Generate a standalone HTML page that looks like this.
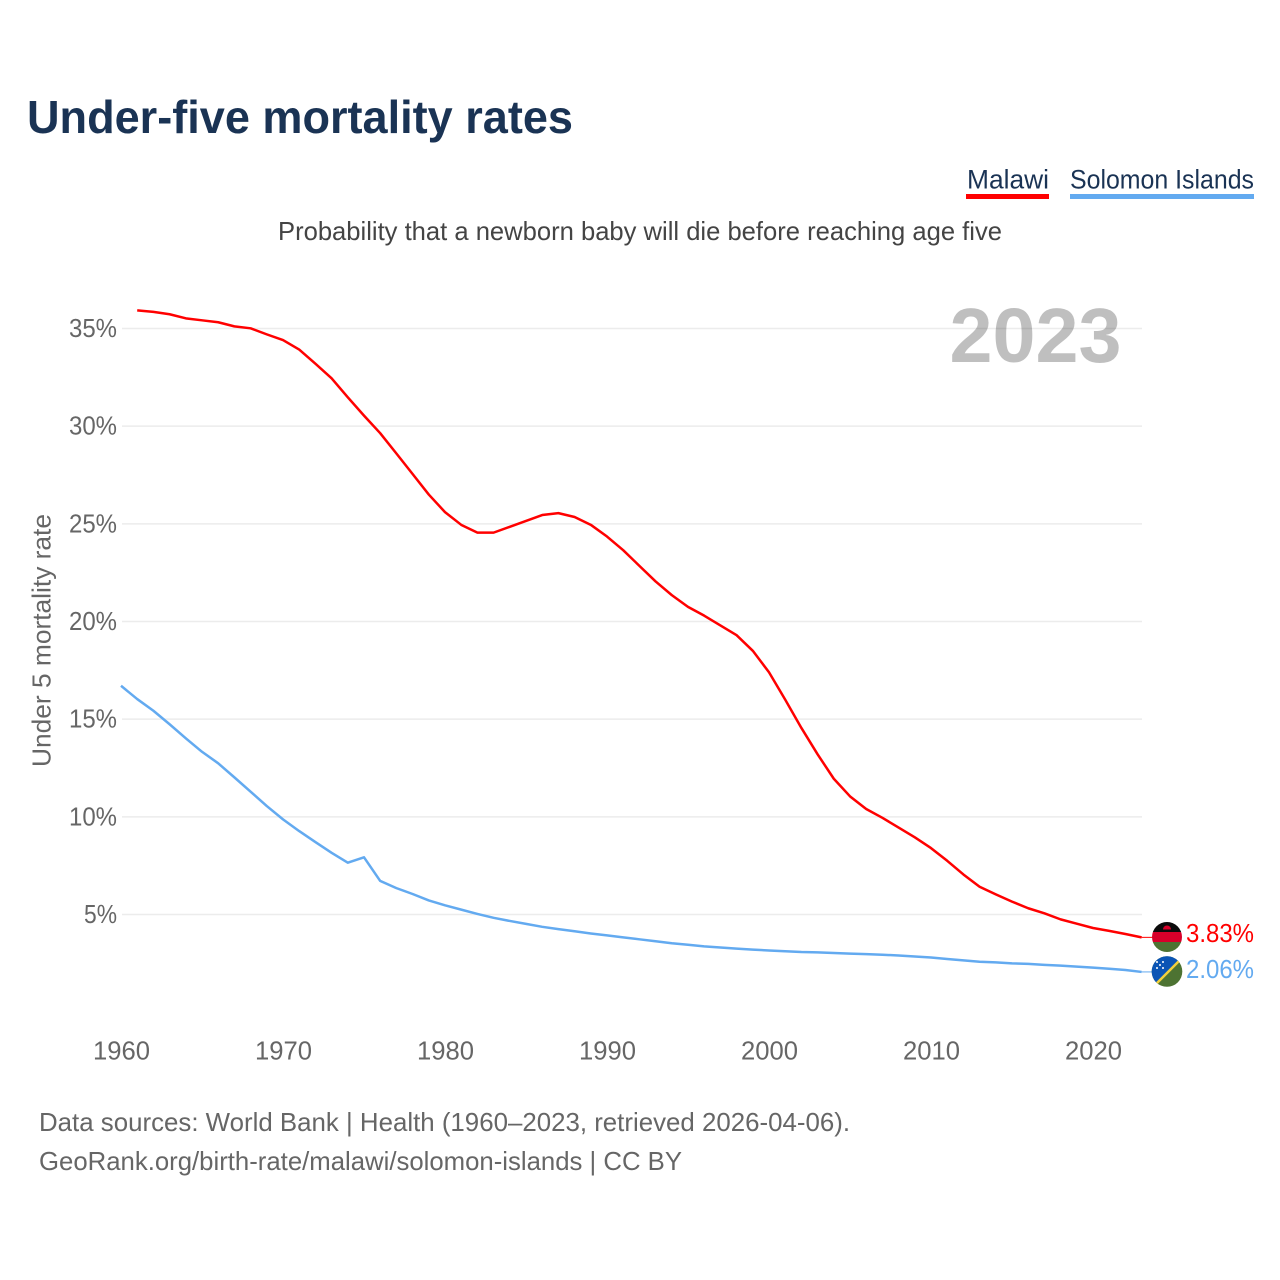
<!DOCTYPE html>
<html lang="en">
<head>
<meta charset="utf-8">
<title>Under-five mortality rates</title>
<style>
html,body{margin:0;padding:0;background:#fff;width:1280px;height:1280px;overflow:hidden}
svg{display:block;font-family:"Liberation Sans",sans-serif}
</style>
</head>
<body>
<svg id="chart" xmlns="http://www.w3.org/2000/svg" width="1280" height="1280" viewBox="0 0 1280 1280">
  <defs>
    <clipPath id="clip-mw"><circle cx="1167" cy="937" r="15"/></clipPath>
    <clipPath id="clip-sb"><circle cx="1167" cy="971.5" r="15.3"/></clipPath>
  </defs>
  <rect width="1280" height="1280" fill="#fff"/>
  <text x="27" y="133" font-size="46" font-weight="700" fill="#1a3354" textLength="546" lengthAdjust="spacingAndGlyphs">Under-five mortality rates</text>
  <g>
    <g>
      <text x="967" y="188.5" font-size="27" fill="#1a3354" textLength="82" lengthAdjust="spacingAndGlyphs">Malawi</text>
      <rect x="966" y="194" width="83" height="5" fill="#ff0000"/>
    </g>
    <g>
      <text x="1070" y="188.5" font-size="27" fill="#1a3354" textLength="184" lengthAdjust="spacingAndGlyphs">Solomon Islands</text>
      <rect x="1070" y="194" width="184" height="5" fill="#63aaf0"/>
    </g>
  </g>
  <text x="278" y="240" font-size="26" fill="#444" textLength="724" lengthAdjust="spacingAndGlyphs">Probability that a newborn baby will die before reaching age five</text>
  <text transform="translate(50.5,767) rotate(-90)" x="0" y="0" font-size="26" fill="#666" textLength="253" lengthAdjust="spacingAndGlyphs">Under 5 mortality rate</text>
  <g id="grid"></g>
  <text x="949.5" y="362" font-size="77" font-weight="700" fill="#000" fill-opacity="0.25" textLength="172" lengthAdjust="spacingAndGlyphs">2023</text>
  <g id="yticks"></g>
  <g id="xticks"></g>
  <g id="series"></g>
  <g clip-path="url(#clip-mw)">
    <rect x="1152" y="922" width="30" height="10" fill="#0b0b0b"/>
    <rect x="1152" y="932" width="30" height="10" fill="#d8002a"/>
    <rect x="1152" y="942" width="30" height="10" fill="#4d7332"/>
    <path d="M1163 929.5a4 4 0 0 1 8 0z" fill="#d8002a"/>
  </g>
  <g clip-path="url(#clip-sb)">
    <rect x="1150" y="954" width="36" height="36" fill="#4d7332"/>
    <path d="M1150 954h36L1150 990z" fill="#0b55b5"/>
    <path d="M1154 986L1182 958" stroke="#f2d03c" stroke-width="2.5" fill="none"/>
    <g fill="#fff">
      <circle cx="1157" cy="962" r="1"/><circle cx="1163" cy="962" r="1"/>
      <circle cx="1160" cy="965" r="1"/><circle cx="1157" cy="968" r="1"/><circle cx="1163" cy="968" r="1"/>
    </g>
  </g>
  <text x="1186" y="942" font-size="26" fill="#ff0000" textLength="68" lengthAdjust="spacingAndGlyphs">3.83%</text>
  <text x="1186" y="978" font-size="26" fill="#63aaf0" textLength="68" lengthAdjust="spacingAndGlyphs">2.06%</text>
  <text x="39" y="1131" font-size="26" fill="#666" textLength="811" lengthAdjust="spacingAndGlyphs">Data sources: World Bank | Health (1960–2023, retrieved 2026-04-06).</text>
  <text x="39" y="1170" font-size="26" fill="#666" textLength="643" lengthAdjust="spacingAndGlyphs">GeoRank.org/birth-rate/malawi/solomon-islands | CC BY</text>
</svg>
<script>
const yTickValues = [5, 10, 15, 20, 25, 30, 35];
const xTickYears = [1960, 1970, 1980, 1990, 2000, 2010, 2020];
const malawiStartYear = 1961;
const malawiValues = [35.93, 35.85, 35.73, 35.52, 35.42, 35.32, 35.11, 35.01, 34.7, 34.41, 33.92, 33.2, 32.45, 31.48, 30.54, 29.64, 28.6, 27.55, 26.5, 25.6, 24.95, 24.55, 24.55, 24.85, 25.15, 25.45, 25.55, 25.35, 24.95, 24.35, 23.65, 22.85, 22.05, 21.35, 20.75, 20.3, 19.8, 19.3, 18.5, 17.4, 16.0, 14.55, 13.2, 11.95, 11.05, 10.4, 9.95, 9.45, 8.95, 8.4, 7.75, 7.05, 6.42, 6.03, 5.66, 5.32, 5.06, 4.75, 4.53, 4.31, 4.16, 4.0, 3.83];
const solomonStartYear = 1960;
const solomonValues = [16.71, 16.03, 15.43, 14.74, 14.02, 13.33, 12.74, 12.02, 11.29, 10.55, 9.87, 9.27, 8.71, 8.16, 7.65, 7.93, 6.72, 6.35, 6.05, 5.72, 5.47, 5.25, 5.03, 4.83, 4.67, 4.52, 4.37, 4.25, 4.14, 4.03, 3.93, 3.83, 3.73, 3.63, 3.53, 3.45, 3.37, 3.31, 3.25, 3.2, 3.16, 3.12, 3.08, 3.06, 3.03, 3.0, 2.97, 2.94, 2.9, 2.85, 2.8, 2.72, 2.65, 2.58, 2.55, 2.5, 2.47, 2.42, 2.38, 2.33, 2.28, 2.22, 2.16, 2.06];

const NS = 'http://www.w3.org/2000/svg';
function xScale(year) { return 121 + (year - 1960) * 16.2; }
function yScale(v) { return 914.5 - (v - 5) * 19.533; }

function makeEl(tag, parent) {
  const el = document.createElementNS(NS, tag);
  parent.appendChild(el);
  return el;
}

const gridGroup = document.getElementById('grid');
const yGroup = document.getElementById('yticks');
const xGroup = document.getElementById('xticks');
const seriesGroup = document.getElementById('series');

yTickValues.forEach(function (v) {
  const line = makeEl('line', gridGroup);
  
  
  line.setAttribute('x1', 122);
  line.setAttribute('x2', 1142);
  line.setAttribute('y1', yScale(v));
  line.setAttribute('y2', yScale(v));
  line.setAttribute('stroke', '#ececec');
  line.setAttribute('stroke-width', '1.5');

  const label = makeEl('text', yGroup);
  
  
  label.setAttribute('x', 117);
  label.setAttribute('y', yScale(v) + 8.5);
  label.setAttribute('text-anchor', 'end');
  label.setAttribute('font-size', '26');
  label.setAttribute('fill', '#666');
  label.setAttribute('textLength', v < 10 ? 33 : 48);
  label.setAttribute('lengthAdjust', 'spacingAndGlyphs');
  label.textContent = v + '%';
});

xTickYears.forEach(function (year) {
  const label = makeEl('text', xGroup);
  
  
  label.setAttribute('x', xScale(year) + 0.5);
  label.setAttribute('y', 1059.5);
  label.setAttribute('text-anchor', 'middle');
  label.setAttribute('font-size', '26');
  label.setAttribute('fill', '#666');
  label.setAttribute('textLength', 57);
  label.setAttribute('lengthAdjust', 'spacingAndGlyphs');
  label.textContent = year;
});

function pointsFor(startYear, values) {
  return values.map(function (v, i) {
    return xScale(startYear + i).toFixed(2) + ',' + yScale(v).toFixed(2);
  }).join(' ');
}

const malawiLine = makeEl('polyline', seriesGroup);


malawiLine.setAttribute('points', pointsFor(malawiStartYear, malawiValues));
malawiLine.setAttribute('fill', 'none');
malawiLine.setAttribute('stroke', '#ff0000');
malawiLine.setAttribute('stroke-width', '2.5');
malawiLine.setAttribute('stroke-linejoin', 'round');

const solomonLine = makeEl('polyline', seriesGroup);


solomonLine.setAttribute('points', pointsFor(solomonStartYear, solomonValues));
solomonLine.setAttribute('fill', 'none');
solomonLine.setAttribute('stroke', '#63aaf0');
solomonLine.setAttribute('stroke-width', '2.5');
solomonLine.setAttribute('stroke-linejoin', 'round');

const malawiLast = malawiValues[malawiValues.length - 1];
const malawiConnector = makeEl('line', seriesGroup);


malawiConnector.setAttribute('x1', xScale(2023));
malawiConnector.setAttribute('x2', 1153);
malawiConnector.setAttribute('y1', yScale(malawiLast));
malawiConnector.setAttribute('y2', yScale(malawiLast));
malawiConnector.setAttribute('stroke', '#ff0000');
malawiConnector.setAttribute('stroke-width', '1');

const solomonLast = solomonValues[solomonValues.length - 1];
const solomonConnector = makeEl('line', seriesGroup);


solomonConnector.setAttribute('x1', xScale(2023));
solomonConnector.setAttribute('x2', 1153);
solomonConnector.setAttribute('y1', yScale(solomonLast));
solomonConnector.setAttribute('y2', yScale(solomonLast));
solomonConnector.setAttribute('stroke', '#63aaf0');
solomonConnector.setAttribute('stroke-width', '1');
</script>
</body>
</html>
